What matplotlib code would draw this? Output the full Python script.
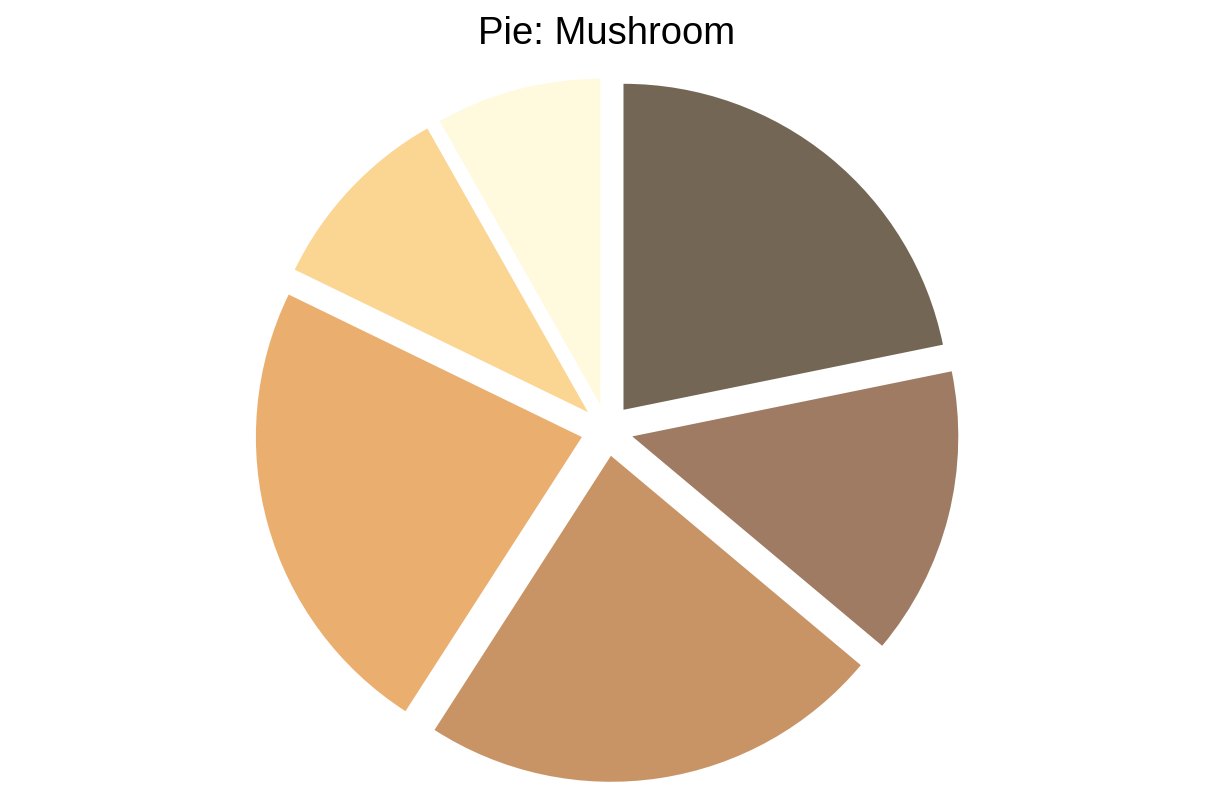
import matplotlib
matplotlib.use("Agg")
from matplotlib import pyplot as plt

# slice shares (percent), clockwise from 12 o'clock
values = [21.8, 14.3, 23.0, 23.1, 9.6, 8.2]
colors = ["#736654", "#9e7b62", "#c89466", "#eaaf6f", "#fbd592", "#fff9de"]
explode = [0.08] * len(values)

plt.rcParams['font.family'] = ['Liberation Sans', 'DejaVu Sans']

fig = plt.figure(figsize=(12.13, 8.08), dpi=100)
ax = fig.add_axes([0, 0, 1, 1])

ax.pie(values, colors=colors, explode=explode, startangle=90,
       counterclock=False, radius=1.0,
       wedgeprops=dict(linewidth=0))

# pixel-based limits: centre at (607, 430) px, radius 326 px
r = 326.0
cx, cy = 607.0, 808.0 - 430.0
ax.set_xlim(-cx / r, (1213 - cx) / r)
ax.set_ylim(-cy / r, (808 - cy) / r)
ax.set_aspect('auto')
ax.axis('off')

fig.text(607 / 1213, 1 - 44 / 808, "Pie: Mushroom", ha='center', va='baseline',
         fontsize=27.5)

fig.savefig("out.png", dpi=100)
